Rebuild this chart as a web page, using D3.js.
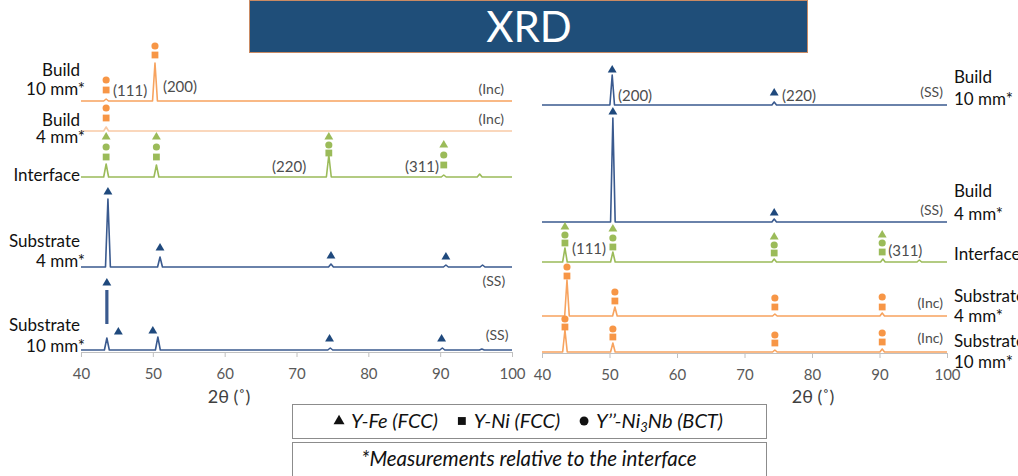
<!DOCTYPE html>
<html>
<head>
<meta charset="utf-8">
<script src="https://cdn.jsdelivr.net/npm/d3@7"></script>
<style>
  html, body { margin: 0; padding: 0; background: #fff; }
  svg { display: block; font-family: Lato, "Open Sans", sans-serif; }
</style>
</head>
<body>
<svg id="chart" width="1018" height="476"></svg>
<script>
// ---------- data ----------
var xTicks = [40, 50, 60, 70, 80, 90, 100];

// left panel, top to bottom; offsets / heights in arbitrary counts
var leftLabels = [["Build", "10 mm*"], ["Build", "4 mm*"], ["Interface"], ["Substrate", "4 mm*"], ["Substrate", "10 mm*"]];
var leftOffsets = [251, 221, 175, 85, 2];
var leftPeaks = [
  [[43.5, 2], [50.3, 38]],
  [[43.5, 4]],
  [[43.5, 13], [50.5, 12], [74.5, 22], [90.5, 2], [95.5, 3]],
  [[43.75, 68], [51.0, 10], [74.8, 3], [90.8, 2], [95.9, 2]],
  [[43.6, 12], [50.7, 13], [74.7, 2], [90.3, 2], [95.8, 1]]
];
var leftBroken = [[4, 43.6, 26, 60]]; // trace, 2theta, from, to (clipped peak drawn as a bar)
var leftMarkers = [
  [[43.5, 21, "c"], [43.5, 11, "s"], [50.3, 55, "c"], [50.3, 46, "s"]],
  [[43.5, 23, "c"], [43.5, 13, "s"]],
  [[43.5, 40, "t"], [43.5, 30, "c"], [43.5, 20, "s"], [50.5, 40, "t"], [50.5, 30, "c"], [50.5, 20, "s"],
   [74.5, 40, "t"], [74.5, 32, "c"], [74.5, 24, "s"], [90.5, 32, "t"], [90.5, 22, "c"], [90.5, 12, "s"]],
  [[43.75, 75, "t"], [51.0, 19, "t"], [74.8, 11, "t"], [90.8, 10, "t"]],
  [[43.6, 67, "t"], [45.2, 18, "t"], [50.0, 19, "t"], [74.6, 11, "t"], [90.2, 11, "t"]]
];
var leftNotes = [
  [0, 44.46, 5, "(111)"], [0, 51.4, 9, "(200)"], [0, 98.9, 7, "(Inc)"], [1, 98.9, 7, "(Inc)"],
  [2, 66.6, 5, "(220)"], [2, 85.1, 5, "(311)"], [3, 99.05, -19, "(SS)"], [4, 99.5, 10, "(SS)"]
];

// right panel, top to bottom
var rightLabels = [["Build", "10 mm*"], ["Build", "4 mm*"], ["Interface"], ["Substrate", "4 mm*"], ["Substrate", "10 mm*"]];
var rightOffsets = [248, 131, 91, 37, 1];
var rightPeaks = [
  [[50.4, 30], [74.4, 3]],
  [[50.5, 104], [74.4, 3]],
  [[43.4, 14], [50.5, 10], [74.4, 3], [90.5, 3], [95.9, 2]],
  [[43.7, 36], [50.8, 9], [74.5, 2], [90.4, 3]],
  [[43.4, 22], [50.5, 9], [74.5, 2], [90.4, 3]]
];
var rightMarkers = [
  [[50.4, 35, "t"], [74.4, 12, "t"]],
  [[50.5, 110, "t"], [74.4, 9, "t"]],
  [[43.4, 35, "t"], [43.4, 27, "c"], [43.4, 19, "s"], [50.5, 33, "t"], [50.5, 24, "c"], [50.5, 15, "s"],
   [74.4, 25, "t"], [74.4, 17, "c"], [74.4, 9, "s"], [90.4, 27, "t"], [90.4, 19, "c"], [90.4, 10, "s"]],
  [[43.7, 49, "c"], [43.7, 40, "s"], [50.8, 24, "c"], [50.8, 15, "s"], [74.5, 18, "c"], [74.5, 9, "s"], [90.4, 19, "c"], [90.4, 9, "s"]],
  [[43.4, 33, "c"], [43.4, 25, "s"], [50.5, 23, "c"], [50.5, 15, "s"], [74.5, 17, "c"], [74.5, 9, "s"], [90.4, 19, "c"], [90.4, 10, "s"]]
];
var rightNotes = [
  [0, 51.26, 4, "(200)"], [0, 75.55, 4, "(220)"], [0, 99.4, 8, "(SS)"], [1, 99.4, 7, "(SS)"],
  [2, 44.44, 8, "(111)"], [2, 91.3, 6, "(311)"], [3, 99.4, 8, "(Inc)"], [4, 99.4, 9, "(Inc)"]
];

var legendItems = [["t", "Υ-Fe (FCC)"], ["s", "Υ-Ni (FCC)"], ["c", "Υ’’-Ni", "3", "Nb (BCT)"]];
var footnote = "*Measurements relative to the interface";

// ---------- styles ----------
var BLUE = "#3a5a8f", BLUE_M = "#1f497d", GREEN = "#9bbb59", ORANGE = "#f7a35f", ORANGE_M = "#f79646", ORANGE_L = "#f9caa6";
var FONT = 'Lato, "Open Sans", sans-serif';

var svg = d3.select("#chart");

// title bar
svg.append("rect").attr("x", 249.5).attr("y", 0.5).attr("width", 558).attr("height", 52)
  .attr("fill", "#1f4e79").attr("stroke", "#c98a63").attr("stroke-width", 1);
svg.append("text").attr("x", 529).attr("y", 42).attr("text-anchor", "middle")
  .attr("font-size", 42).attr("fill", "#fff").text("XRD");

var symType = { t: d3.symbolTriangle, s: d3.symbolSquare, c: d3.symbolCircle };
var symSize = { t: 34, s: 46, c: 40 };

function panel(cfg) {
  var x = d3.scaleLinear().domain([40, 100]).range([cfg.x0, cfg.x1]);
  var y = d3.scaleLinear().domain([0, 310]).range([cfg.yAxis, cfg.yAxis - 310]);
  var g = svg.append("g");

  // axis
  var ax = g.append("g").attr("transform", "translate(0," + cfg.yAxis + ")")
    .call(d3.axisBottom(x).tickValues(xTicks).tickSize(5).tickSizeOuter(0).tickPadding(11));
  ax.select(".domain").attr("stroke", "#c0c0c0");
  ax.selectAll(".tick line").attr("stroke", "#c0c0c0");
  ax.selectAll(".tick text").attr("font-family", FONT).attr("font-size", 15).attr("fill", "#595959");
  g.append("text").attr("x", cfg.titleX).attr("y", 403).attr("text-anchor", "middle")
    .attr("font-size", 18).attr("fill", "#404040").text("2θ (˚)");

  var line = d3.line().x(function (d) { return x(d[0]); }).y(function (d) { return y(d[1]); });
  var hw = 0.34;

  cfg.offsets.forEach(function (off, i) {
    var pts = [[40, off]];
    cfg.peaks[i].forEach(function (p) {
      pts.push([p[0] - hw, off], [p[0], off + p[1]], [p[0] + hw, off]);
    });
    pts.push([100, off]);
    g.append("path").attr("d", line(pts)).attr("fill", "none")
      .attr("stroke", cfg.colors[i]).attr("stroke-width", 1.6).attr("stroke-linejoin", "round");

    cfg.markers[i].forEach(function (m) {
      g.append("path").attr("d", d3.symbol(symType[m[2]], symSize[m[2]])())
        .attr("transform", "translate(" + x(m[0]) + "," + y(off + m[1]) + ")")
        .attr("fill", cfg.mcolors[i]);
    });

    var lab = cfg.labels[i];
    lab.forEach(function (t, k) {
      var tx = cfg.labelAnchor === "end" ? cfg.labelX + (t.slice(-1) === "*" ? 5 : 0) : cfg.labelX;
      g.append("text").attr("x", tx).attr("y", y(off) + cfg.labelDy[i][k])
        .attr("text-anchor", cfg.labelAnchor).attr("font-size", 17).attr("fill", "#111").text(t);
    });
  });

  (cfg.broken || []).forEach(function (b) {
    var off = cfg.offsets[b[0]];
    g.append("line").attr("x1", x(b[1])).attr("x2", x(b[1]))
      .attr("y1", y(off + b[2])).attr("y2", y(off + b[3]))
      .attr("stroke", cfg.colors[b[0]]).attr("stroke-width", 3.2);
  });

  cfg.notes.forEach(function (n) {
    var isPhase = n[3].indexOf("(I") === 0 || n[3].indexOf("(S") === 0;
    g.append("text").attr("x", x(n[1])).attr("y", y(cfg.offsets[n[0]] + n[2]))
      .attr("text-anchor", isPhase ? "end" : "start")
      .attr("font-size", isPhase ? 14 : 15).attr("fill", "#4d4d4d").text(n[3]);
  });
}

panel({
  x0: 81, x1: 512, yAxis: 352, titleX: 229,
  offsets: leftOffsets, peaks: leftPeaks, markers: leftMarkers, notes: leftNotes, broken: leftBroken,
  labels: leftLabels, labelAnchor: "end", labelX: 80,
  labelDy: [[-25, -6], [-5, 12], [4], [-20, 0], [-19, 2]],
  colors: [ORANGE, ORANGE_L, GREEN, BLUE, BLUE],
  mcolors: [ORANGE_M, ORANGE_M, GREEN, BLUE_M, BLUE_M]
});

panel({
  x0: 542, x1: 947, yAxis: 353, titleX: 813,
  offsets: rightOffsets, peaks: rightPeaks, markers: rightMarkers, notes: rightNotes,
  labels: rightLabels, labelAnchor: "start", labelX: 954,
  labelDy: [[-22, 0], [-25, -2], [-2], [-14, 6], [-5, 16]],
  colors: [BLUE, BLUE, GREEN, ORANGE, ORANGE],
  mcolors: [BLUE_M, BLUE_M, GREEN, ORANGE_M, ORANGE_M]
});

// legend boxes
svg.append("rect").attr("x", 292.5).attr("y", 404.5).attr("width", 474).attr("height", 34)
  .attr("fill", "none").attr("stroke", "#8c8c8c");
svg.append("rect").attr("x", 292.5).attr("y", 442.5).attr("width", 474).attr("height", 40)
  .attr("fill", "none").attr("stroke", "#8c8c8c");

var lg = svg.append("g");
var cx = 0;
legendItems.forEach(function (it, i) {
  lg.append("path").attr("d", d3.symbol(symType[it[0]], it[0] === "t" ? 52 : 62)())
    .attr("transform", "translate(" + (cx + 4) + ",-7)").attr("fill", "#111");
  cx += 16;
  var t = lg.append("text").attr("x", cx).attr("y", 0).attr("font-size", 20)
    .attr("font-style", "italic").attr("fill", "#111");
  t.append("tspan").text(it[1]);
  if (it[2]) {
    t.append("tspan").attr("font-size", 13).attr("dy", 4).text(it[2]);
    t.append("tspan").attr("dy", -4).text(it[3]);
  }
  cx += t.node().getComputedTextLength() + (i < legendItems.length - 1 ? 20 : 0);
});
lg.attr("transform", "translate(" + (529 - cx / 2) + ",428)");

svg.append("text").attr("x", 529).attr("y", 466).attr("text-anchor", "middle")
  .attr("font-size", 20.5).attr("font-style", "italic").attr("fill", "#111").text(footnote);
</script>
</body>
</html>
